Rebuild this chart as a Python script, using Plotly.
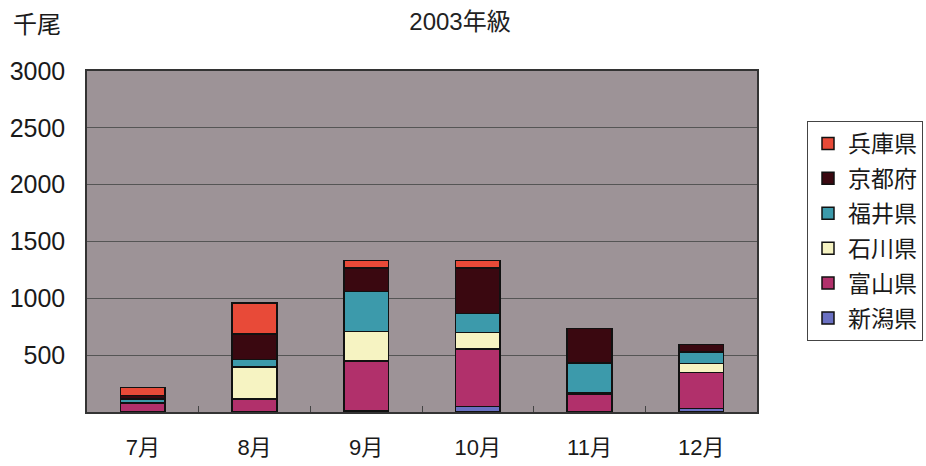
import plotly.graph_objects as go

months = ["7月", "8月", "9月", "10月", "11月", "12月"]
prefectures = ["新潟県", "富山県", "石川県", "福井県", "京都府", "兵庫県"]
niigata = [0, 0, 10, 48, 0, 31]
toyama = [75, 114, 437, 505, 158, 316]
ishikawa = [10, 283, 263, 148, 10, 79]
fukui = [30, 63, 351, 167, 262, 101]
kyoto = [30, 228, 204, 397, 304, 67]
hyogo = [70, 272, 68, 68, 0, 0]
series = [niigata, toyama, ishikawa, fukui, kyoto, hyogo]
colors = ["#6a70c2", "#b1306b", "#f6f3c2", "#3c9aab", "#3a0810", "#e84a38"]
yticks = [500, 1000, 1500, 2000, 2500, 3000]

font_fam = "Liberation Sans, Noto Sans CJK JP, sans-serif"

fig = go.Figure()
for i, (name, vals, col) in enumerate(zip(prefectures, series, colors)):
    fig.add_trace(go.Bar(
        x=months, y=vals, name=name, legendgroup=name, legendrank=100 - i,
        marker=dict(color=col, line=dict(color="#111111", width=1.5)),
        width=0.4,
    ))

fig.update_layout(
    width=926, height=466,
    barmode="stack",
    paper_bgcolor="white",
    plot_bgcolor="#9d9397",
    margin=dict(l=87, r=169, t=71, b=54, autoexpand=False),
    title=dict(text="2003年級", x=460/926, xanchor="center", y=1 - 22/466, yanchor="middle",
               font=dict(family=font_fam, size=24, color="#222222")),
    font=dict(family=font_fam, color="#1a1a1a"),
    showlegend=True,
    legend=dict(
        x=(807 - 87) / 670, xanchor="left", y=(412 - 121) / 341, yanchor="top",
        traceorder="grouped", tracegroupgap=2,
        bordercolor="#444444", borderwidth=1, bgcolor="white",
        font=dict(family=font_fam, size=23, color="#1a1a1a"),
        itemwidth=30,
    ),
    xaxis=dict(
        showgrid=False, ticks="inside", tickson="boundaries", ticklen=6,
        tickcolor="#444444", showline=True, linecolor="#333333", linewidth=1.5,
        mirror=True, tickfont=dict(size=22, family=font_fam),
        ticklabelstandoff=15, automargin=False,
    ),
    yaxis=dict(
        range=[0, 3000], tickvals=yticks, ticktext=[str(v) for v in yticks],
        showgrid=True, gridcolor="#555555", gridwidth=1,
        showline=True, linecolor="#333333", linewidth=1.5, mirror=True,
        ticks="", tickfont=dict(size=25, family=font_fam),
        ticklabelstandoff=15, zeroline=False, automargin=False,
    ),
)
fig.update_layout(annotations=[dict(text="千尾", x=-87/670 + 11/670, y=1 + (71 - 24) / 341,
                                    xref="paper", yref="paper", xanchor="left", yanchor="middle",
                                    showarrow=False,
                                    font=dict(size=24, family=font_fam, color="#1a1a1a"))])

fig.write_html("out.html")
